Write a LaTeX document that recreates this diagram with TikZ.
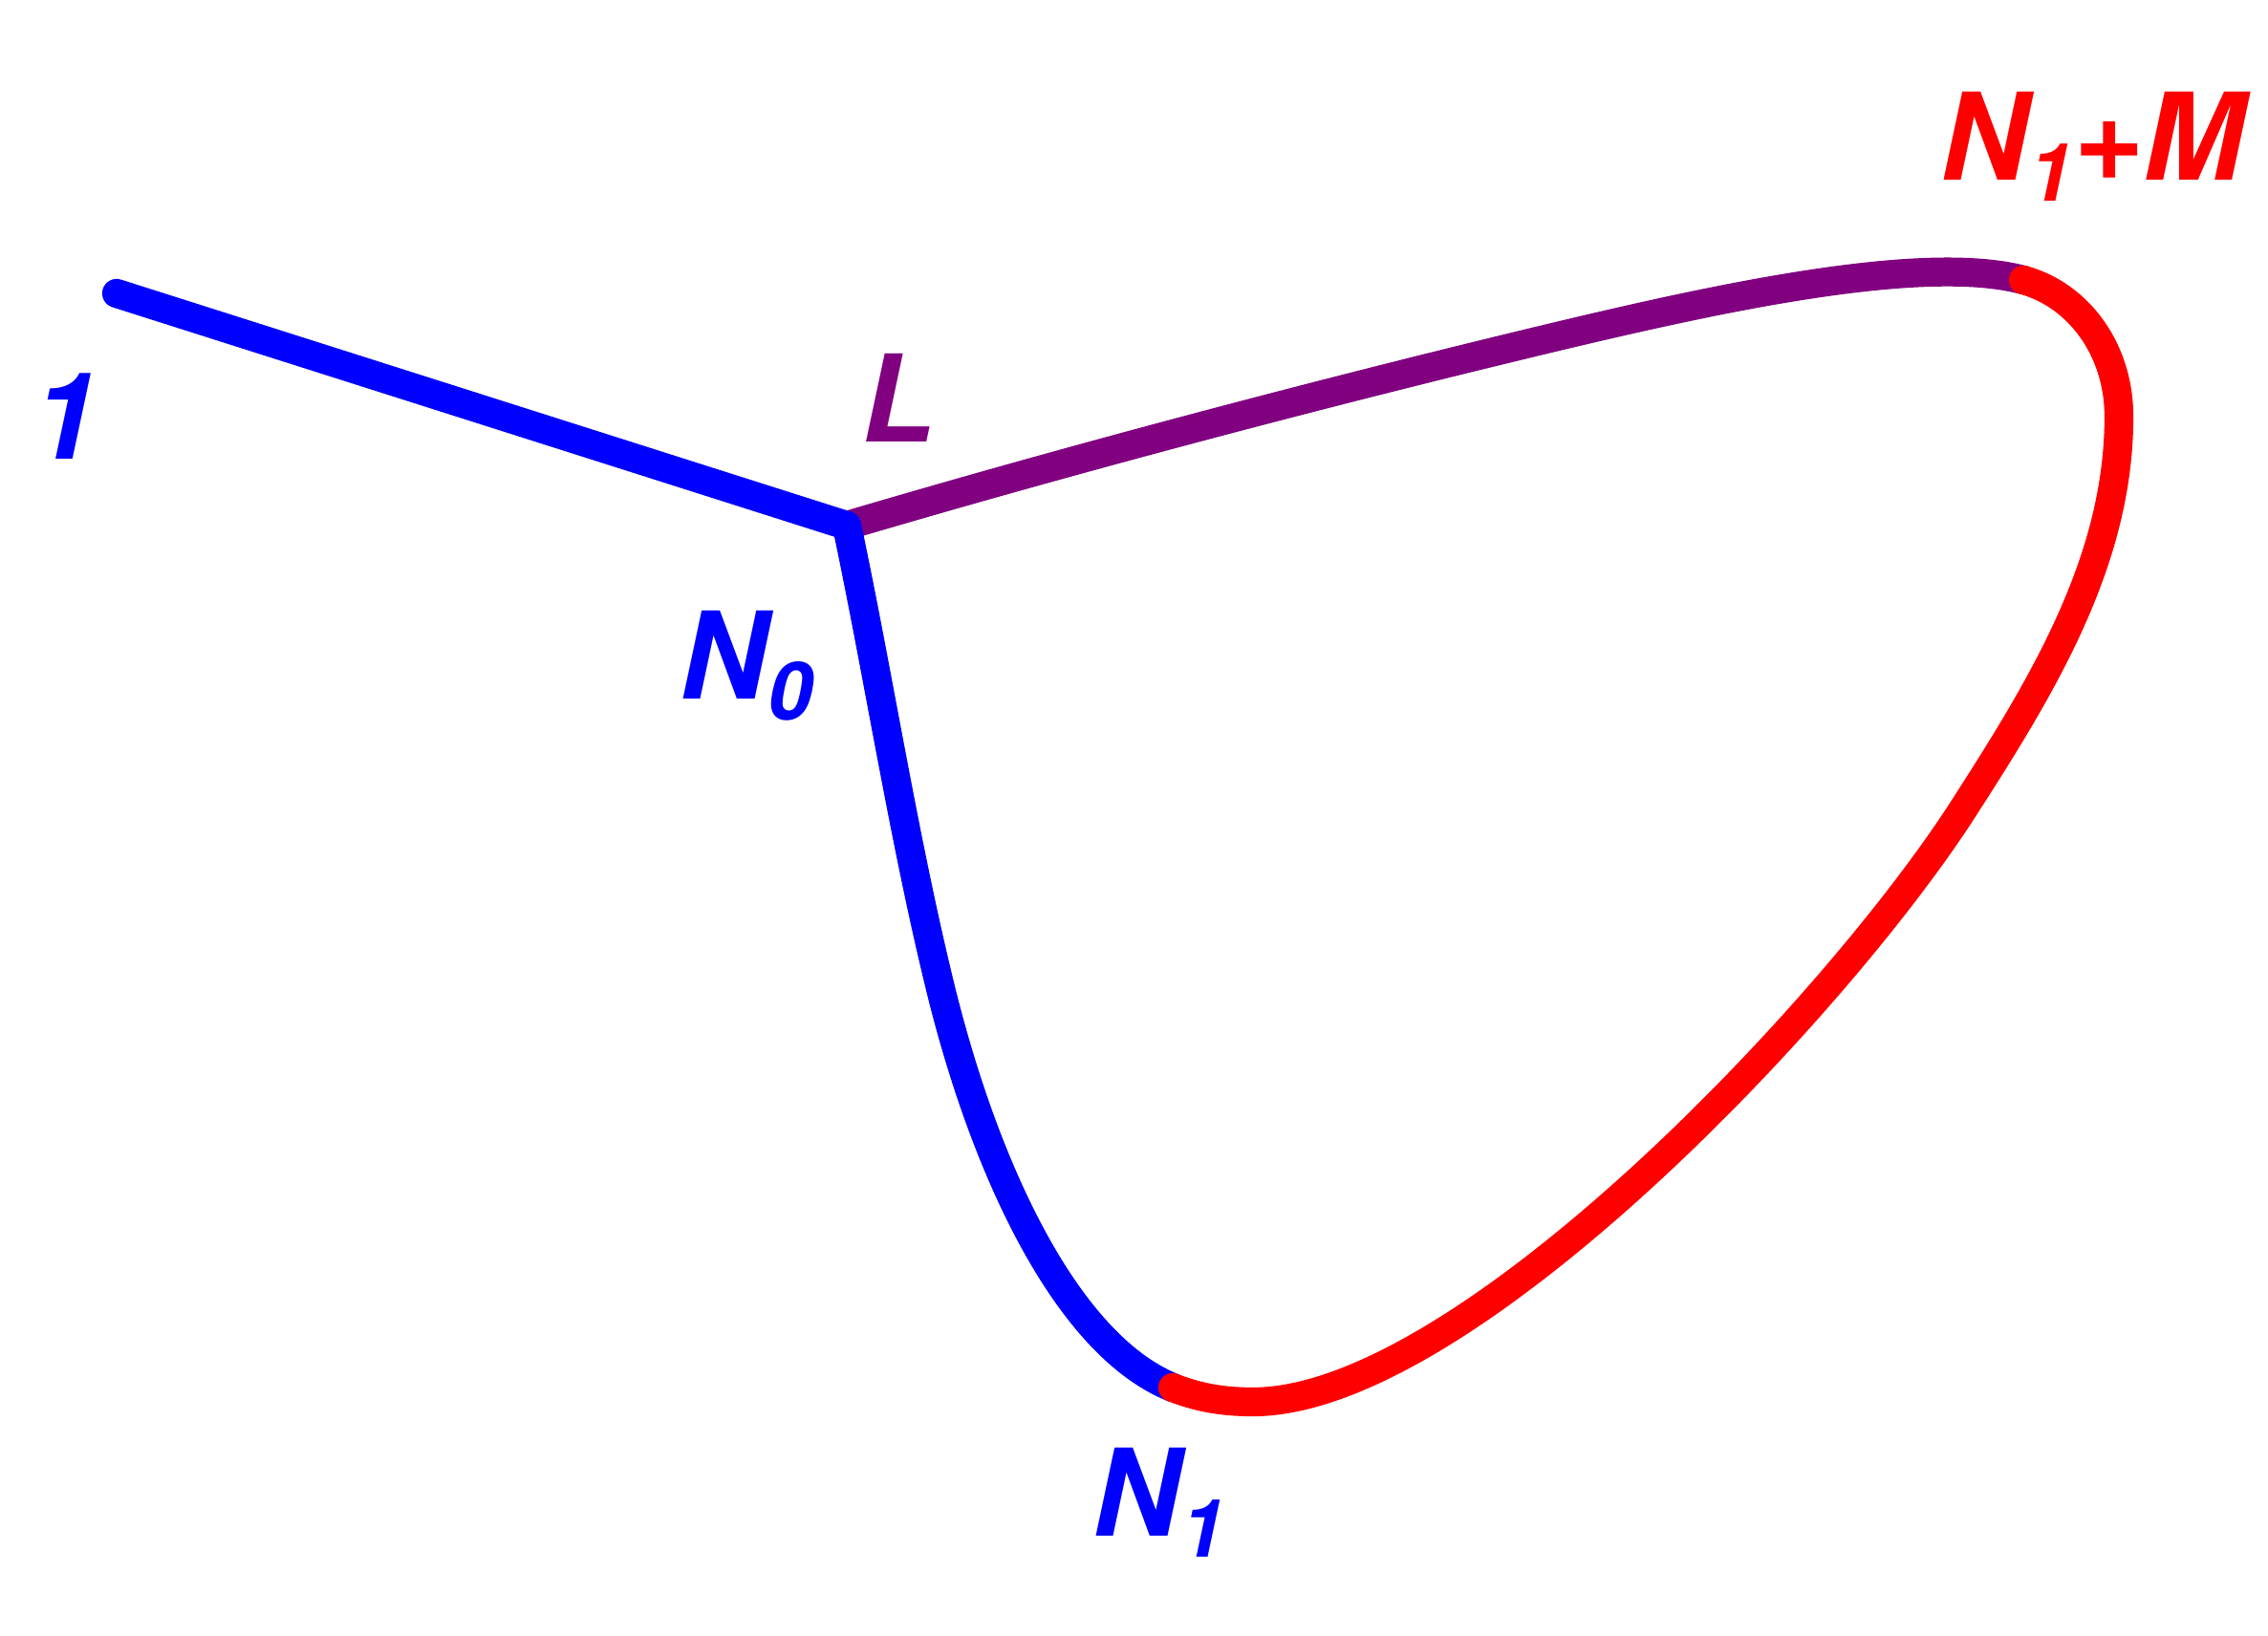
\documentclass[tikz,border=0pt]{standalone}
\usepackage{fontspec}
\setmainfont{TeX Gyre Heros}
\definecolor{lilac}{RGB}{128,0,128}
\newcommand\lowsub[1]{\raisebox{-0.22cm}{\fontsize{24}{24}\selectfont #1}}
\begin{document}
\begin{tikzpicture}[font=\fontsize{36}{40}\selectfont\bfseries\itshape, line join=round, line cap=round, curve/.style={line width=8.6pt}, scale =1]
			\useasboundingbox (0,0) rectangle (23.73,17.11);
			\coordinate (one) at (1.22,14.04);
			\coordinate (N0) at (8.86,11.61);
			\coordinate (top) at (21.17,14.18);
			\coordinate (N1) at (12.27,2.59);
			\draw[curve, lilac] (N0) .. controls (11.26,12.32) and (13.95,13.03) .. (16.38,13.61)
				.. controls (17.94,13.98) and (20.11,14.46) .. (top);
			\draw[curve, blue] (one) -- (N0) .. controls (9.19,10.05) and (9.45,8.37) .. (9.83,6.81)
				.. controls (10.30,4.87) and (11.16,3.04) .. (N1);
			\draw[curve, red] (top) .. controls (21.75,14.02) and (22.17,13.45) .. (22.17,12.75)
				.. controls (22.17,11.25) and (21.38,9.95) .. (20.57,8.69)
				.. controls (19.23,6.58) and (15.31,2.44) .. (13.11,2.44)
				.. controls (12.81,2.44) and (12.55,2.48) .. (N1);
			\node[blue] (l1) at (0.69,12.75) {1};
			\node[lilac] (lL) at (9.40,12.95) {L};
			\node[blue, anchor=base west, inner sep=0] (lN0) at (7.11,9.79) {N\lowsub{0}};
			\node[blue, anchor=base west, inner sep=0] (lN1) at (11.43,1.04) {N\lowsub{1}};
			\node[red, anchor=base west, inner sep=0] (lNM) at (20.30,15.22) {N\lowsub{1}+M};
		\end{tikzpicture}
\end{document}
